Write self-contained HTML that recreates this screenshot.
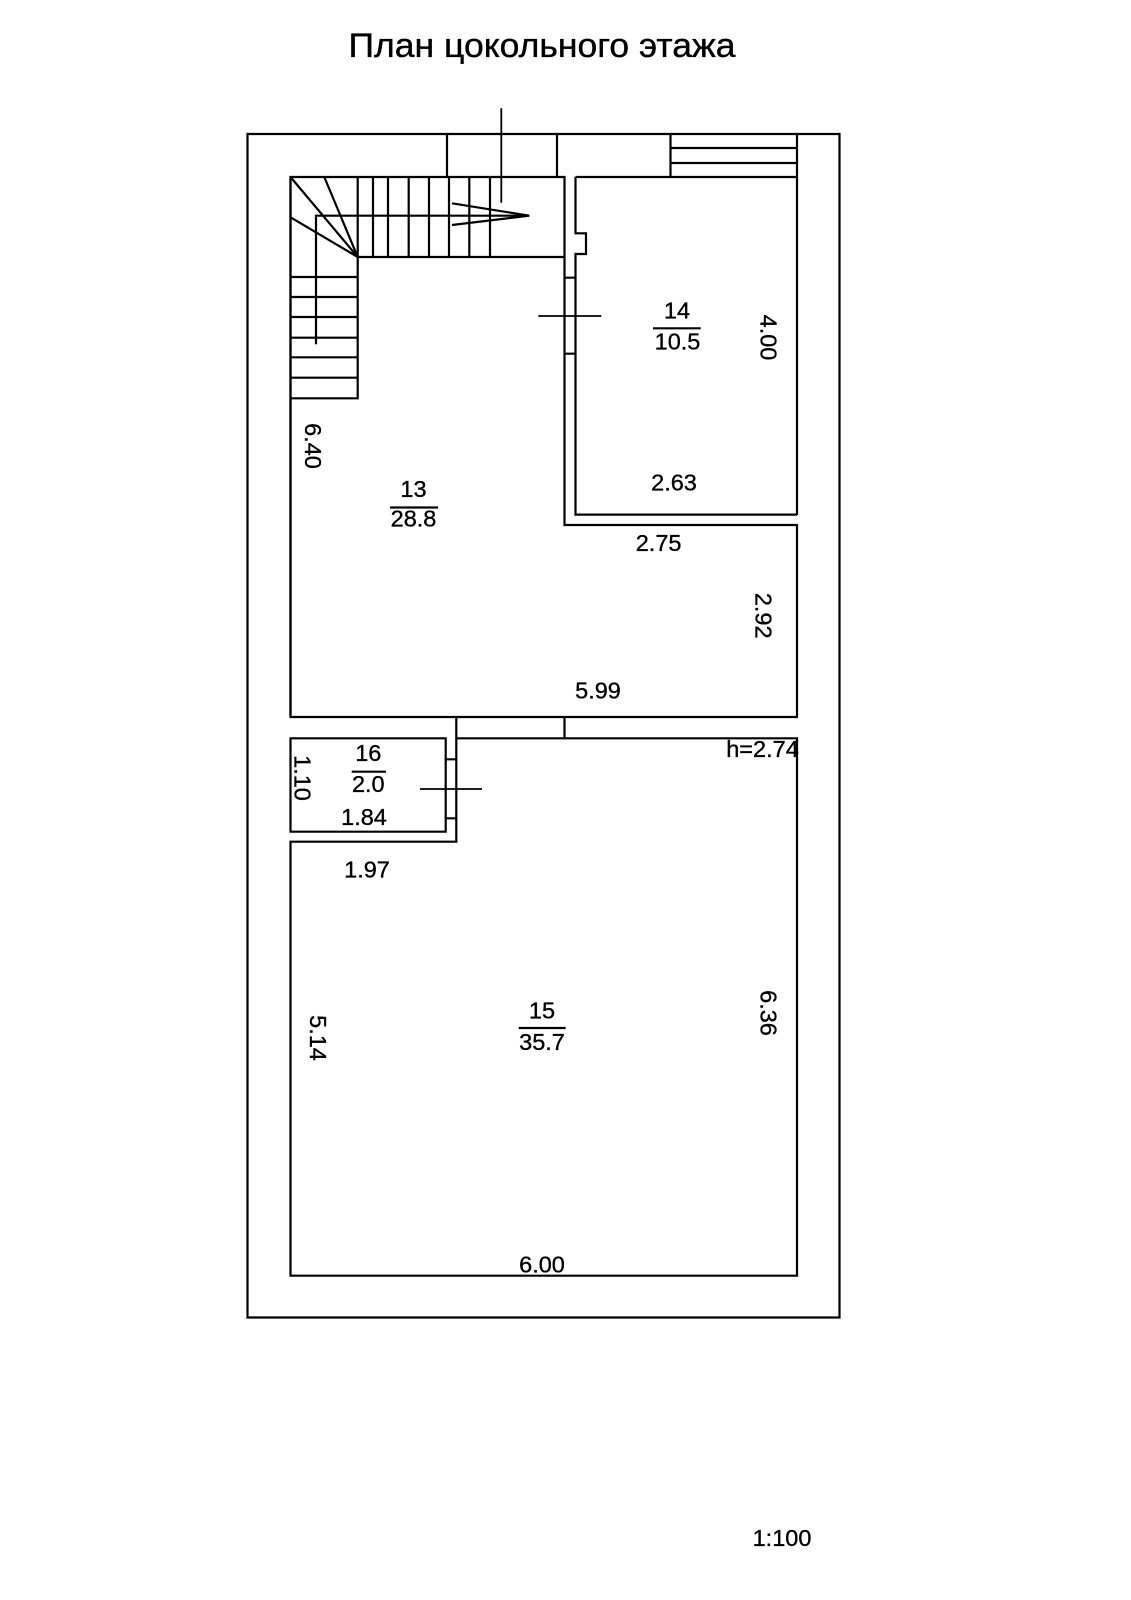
<!DOCTYPE html>
<html><head><meta charset="utf-8"><style>
html,body{margin:0;padding:0;background:#fff}
svg{display:block}
text{font-family:"Liberation Sans",sans-serif;font-size:23.5px;fill:#000;stroke:#000;stroke-width:.35;text-anchor:middle}
</style></head><body>
<svg width="1131" height="1600" viewBox="0 0 1131 1600" xmlns="http://www.w3.org/2000/svg">
<rect width="1131" height="1600" fill="#fff"/>
<g fill="none" stroke="#000" stroke-width="2.2">
<path d="M247.5 134H839.5V1317.5H247.5Z"/>
<path d="M447 134V177M557 134V177M670.5 134V177M670.5 148H797M670.5 163H797M797 134V515"/>
<path d="M290.5 177H564.5V525H797V717H290.5Z"/>
<path d="M290.5 177V717"/>
<path d="M357.7 257H564.5M357.7 177V398.3H290.5"/>
<path d="M373 177V257M388 177V257M408.7 177V257M429 177V257M449 177V257M469.3 177V257M490 177V257"/>
<path d="M357.7 257L290.5 177M357.7 257L324.3 177M357.7 257L290.5 217.3"/>
<path d="M290.5 277H357.7M290.5 297H357.7M290.5 317H357.7M290.5 337.7H357.7M290.5 357.3H357.7M290.5 377.7H357.7"/>
<path d="M316 344.3V215.7H529.3M452 203.3L529.3 215.7L452 225"/>
<path d="M501.3 108.3V202.7" stroke-width="1.8"/>
<path d="M575.5 177V233.3H586V254H575.5V514.6H797M575.5 177H797"/>
<path d="M564.5 277.7H575.5M564.5 353.7H575.5"/>
<path d="M538.3 316H601.3M420 789H482" stroke-width="1.8"/>
<path d="M290.5 738.3H445.7V831.7H290.5Z"/>
<path d="M456.3 717V841.7H290.5V1275.7H797V738.3H456.3"/>
<path d="M564.5 717V738.3M445.7 759.3H456.3M445.7 818.3H456.3"/>
<path d="M653 328.3H700.7M390 507.5H438M351.7 771.7H386M518.7 1028H565.6"/>
</g>
<text x="542" y="57" style="font-size:34px" textLength="387" lengthAdjust="spacingAndGlyphs">План цокольного этажа</text>
<text x="677" y="318.5">14</text><text x="677.5" y="349.5">10.5</text>
<text x="413.5" y="497">13</text><text x="413.5" y="526.5">28.8</text>
<text x="368.3" y="761">16</text><text x="368.3" y="792">2.0</text>
<text x="542" y="1018.5">15</text><text x="542" y="1050">35.7</text>
<text x="674" y="490.5">2.63</text>
<text x="658.6" y="551">2.75</text>
<text x="598" y="698.5">5.99</text>
<text x="762.5" y="757">h=2.74</text>
<text x="364" y="825">1.84</text>
<text x="367" y="877.5">1.97</text>
<text x="542" y="1272.5">6.00</text>
<text x="782" y="1546">1:100</text>
<text transform="translate(760.5,337.5) rotate(90)">4.00</text>
<text transform="translate(755.5,615.7) rotate(90)">2.92</text>
<text transform="translate(305,446) rotate(90)">6.40</text>
<text transform="translate(294.5,778) rotate(90)">1.10</text>
<text transform="translate(760.5,1013) rotate(90)">6.36</text>
<text transform="translate(310,1038) rotate(90)">5.14</text>
</svg>
</body></html>
